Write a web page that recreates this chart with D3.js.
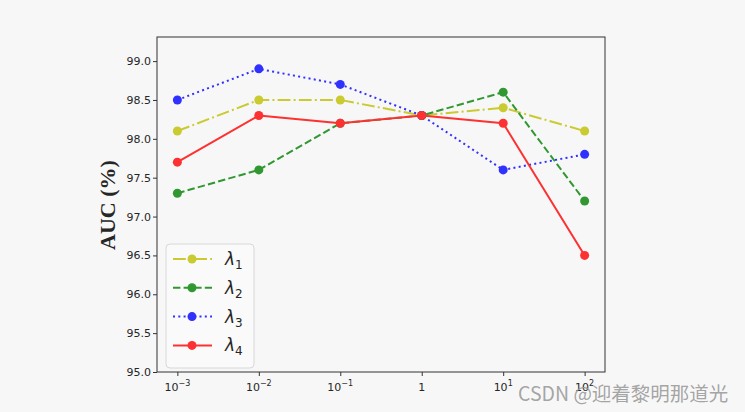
<!DOCTYPE html>
<html><head><meta charset="utf-8">
<script src="https://cdn.jsdelivr.net/npm/d3@7"></script>
<style>body{margin:0;background:#f7f7f7;}svg{display:block;}</style>
</head><body>
<svg id="c" width="745" height="412"></svg>
<script>
const categories = ["-3","-2","-1","0","1","2"];
const lambda1 = [98.1, 98.5, 98.5, 98.3, 98.4, 98.1];
const lambda2 = [97.3, 97.6, 98.2, 98.3, 98.6, 97.2];
const lambda3 = [98.5, 98.9, 98.7, 98.3, 97.6, 97.8];
const lambda4 = [97.7, 98.3, 98.2, 98.3, 98.2, 96.5];
const yTicks = [95.0, 95.5, 96.0, 96.5, 97.0, 97.5, 98.0, 98.5, 99.0];
const seriesNames = ["1","2","3","4"];

const series = [
  {name: seriesNames[0], values: lambda1, color: "#caca31", dash: "12.8,3.2,2,3.2"},
  {name: seriesNames[1], values: lambda2, color: "#319831", dash: "7.4,3.2"},
  {name: seriesNames[2], values: lambda3, color: "#3131fe", dash: "2,3.3"},
  {name: seriesNames[3], values: lambda4, color: "#fd3131", dash: null}
];

const svg = d3.select("#c");
const L = 157, R = 605, T = 37, B = 372;
const x = d3.scaleLinear().domain([-0.25, categories.length - 0.75]).range([L, R]);
const y = d3.scaleLinear().domain([95, 99.31]).range([B, T]);

svg.append("rect").attr("x", 0).attr("y", 0).attr("width", 745).attr("height", 412).attr("fill", "#f7f7f7");

const g = svg.append("g");
const line = d3.line().x((d, i) => x(i)).y(d => y(d));
series.forEach(s => {
  g.append("path").datum(s.values).attr("d", line)
    .attr("fill", "none").attr("stroke", s.color).attr("stroke-width", 2)
    .attr("stroke-dasharray", s.dash).attr("stroke-linejoin", "round");
  g.selectAll(null).data(s.values).enter().append("circle")
    .attr("cx", (d, i) => x(i)).attr("cy", d => y(d)).attr("r", 4.5)
    .attr("fill", s.color);
});

svg.append("rect").attr("x", L).attr("y", T).attr("width", R - L).attr("height", B - T)
  .attr("fill", "none").attr("stroke", "#333").attr("stroke-width", 1);

const xAxis = d3.axisBottom(x).tickValues(d3.range(categories.length)).tickSize(4).tickFormat("");
const xg = svg.append("g").attr("transform", `translate(0,${B})`).call(xAxis);
xg.select(".domain").remove();
xg.selectAll("line").attr("stroke", "#333");
categories.forEach((c, i) => {
  const t = svg.append("text").attr("x", x(i)).attr("y", B + 19)
    .attr("text-anchor", "middle").attr("font-family", "DejaVu Sans").attr("font-size", 11).attr("fill", "#262626");
  if (c === "0") { t.text("1"); }
  else {
    t.append("tspan").text("10");
    t.append("tspan").attr("dy", -5).attr("font-size", 8).text(c.replace("-", "\u2212"));
  }
});

const yAxis = d3.axisLeft(y).tickValues(yTicks).tickSize(4).tickFormat(d3.format(".1f"));
const yg = svg.append("g").attr("transform", `translate(${L},0)`).call(yAxis);
yg.select(".domain").remove();
yg.selectAll("line").attr("stroke", "#333");
yg.selectAll("text").attr("font-family", "DejaVu Sans").attr("font-size", 11).attr("fill", "#262626").attr("x", -6);

svg.append("text").attr("transform", `translate(115,205) rotate(-90)`)
  .attr("text-anchor", "middle").attr("font-family", "Liberation Serif").attr("font-weight", "bold")
  .attr("font-size", 22).attr("fill", "#262626").text("AUC (%)");

const lg = svg.append("g");
lg.append("rect").attr("x", 166).attr("y", 244).attr("width", 88).attr("height", 124).attr("rx", 4)
  .attr("fill", "#fafafa").attr("stroke", "#d8d8d8").attr("stroke-width", 1);
series.forEach((s, i) => {
  const yy = 259 + i * 28.8;
  lg.append("line").attr("x1", 173).attr("x2", 212).attr("y1", yy).attr("y2", yy)
    .attr("stroke", s.color).attr("stroke-width", 2).attr("stroke-dasharray", s.dash);
  lg.append("circle").attr("cx", 192).attr("cy", yy).attr("r", 4.5).attr("fill", s.color);
  const t = lg.append("text").attr("x", 225).attr("y", yy + 6).attr("font-family", "DejaVu Sans")
    .attr("font-size", 17).attr("fill", "#262626");
  t.append("tspan").attr("font-style", "italic").text("\u03bb");
  t.append("tspan").attr("dy", 4).attr("font-size", 12).text(s.name);
});

svg.append("text").attr("x", 518).attr("y", 401).attr("font-family", "Noto Sans CJK SC")
  .attr("font-size", 19.5).attr("fill", "#9a9a9a").attr("fill-opacity", 0.9).text("CSDN @迎着黎明那道光");
</script>
</body></html>
